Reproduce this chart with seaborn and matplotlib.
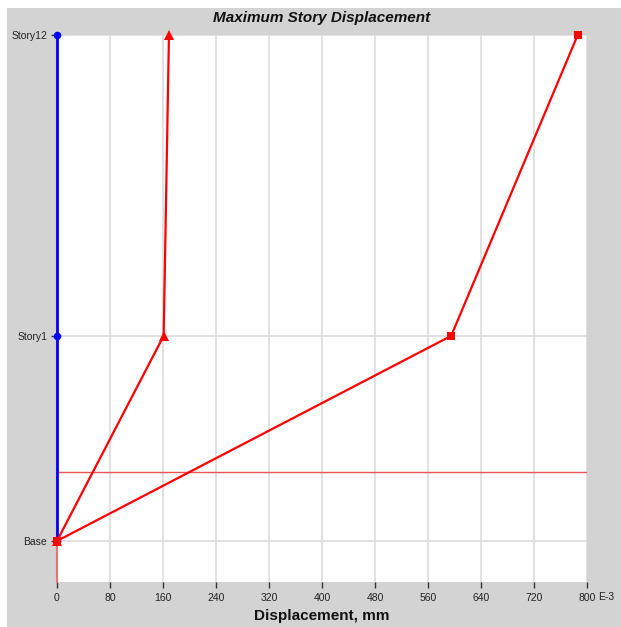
import matplotlib
matplotlib.use("Agg")
import matplotlib.pyplot as plt
import matplotlib.patches as mpatches
import numpy as np
import pandas as pd
import seaborn as sns

# Story levels and elevations (m)
stories = ["Base", "Story1", "Story12"]
elevations = [0.0, 4.5, 11.1]

# Maximum displacement per load case (x 1E-3 mm)
disp_blue = [0, 0, 0]
disp_triangle = [0, 161, 169]
disp_square = [0, 595, 786]

x_ticks = [0, 80, 160, 240, 320, 400, 480, 560, 640, 720, 800]
ref_level = 1.51

sns.set_theme(style="white")
plt.rcParams["font.family"] = ["Liberation Sans", "DejaVu Sans"]

W, H = 621, 627
fig = plt.figure(figsize=(W / 100, H / 100), dpi=100)
fig.patch.set_facecolor("white")
fig.patches.append(mpatches.Rectangle((7 / W, 0), 1 - 7 / W, 1 - 8 / H,
                                      transform=fig.transFigure,
                                      facecolor="#d3d3d3", edgecolor="none", zorder=-10))

ax = fig.add_axes([57 / W, 45 / H, 530 / W, 547 / H])
ax.set_facecolor("white")

df_blue = pd.DataFrame({"disp": disp_blue, "elev": elevations})
df_tri = pd.DataFrame({"disp": disp_triangle, "elev": elevations})
df_sq = pd.DataFrame({"disp": disp_square, "elev": elevations})

# reference lines
ax.axvline(0, color="#f07070", lw=1.5, zorder=2, clip_on=False)
ax.axhline(ref_level, color="#f04040", lw=1.0, alpha=0.9, zorder=2)

sns.lineplot(data=df_blue, x="disp", y="elev", sort=False, estimator=None, ax=ax,
             color="#0000ff", lw=2, marker="o", markersize=5.5, markeredgewidth=0,
             zorder=4, clip_on=False)
sns.lineplot(data=df_tri, x="disp", y="elev", sort=False, estimator=None, ax=ax,
             color="#ff0000", lw=1.6, marker="^", markersize=6.5, markeredgewidth=0,
             zorder=5, clip_on=False)
sns.lineplot(data=df_sq, x="disp", y="elev", sort=False, estimator=None, ax=ax,
             color="#ff0000", lw=1.6, marker="s", markersize=5.5, markeredgewidth=0,
             zorder=5, clip_on=False)

ax.set_xlim(0, 800)
ax.set_ylim(-0.9, 11.1)
ax.set_xticks(x_ticks)
ax.set_xticklabels([str(t) for t in x_ticks], fontsize=7.5, color="#222222")
ax.set_yticks(elevations)
ax.set_yticklabels(stories, fontsize=7.5, color="#222222")
ax.grid(True, color="#dcdcdc", lw=1.2, zorder=1)
ax.set_axisbelow(True)
for s in ax.spines.values():
    s.set_visible(False)
ax.tick_params(axis="both", which="both", direction="out", length=4, width=1,
               color="#333333", pad=3, bottom=True, left=True)
ax.tick_params(axis="x", pad=4)

ax.set_xlabel("Displacement, mm", fontsize=11, fontweight="bold", color="#111111",
              labelpad=4)
ax.set_ylabel("")
fig.text(598 / W, 1 - 597 / H, "E-3", fontsize=7.5, color="#222222",
         ha="left", va="center")

fig.text((57 + 265) / W, 1 - 18 / H, "Maximum Story Displacement", fontsize=11,
         fontweight="bold", fontstyle="italic", ha="center", va="center",
         color="#111111")

fig.savefig("out.png", dpi=100)
